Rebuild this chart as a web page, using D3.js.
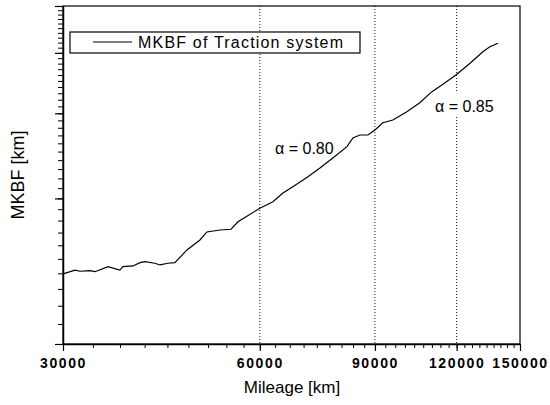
<!DOCTYPE html>
<html>
<head>
<meta charset="utf-8">
<script src="https://cdn.jsdelivr.net/npm/d3@7"></script>
<style>
    body { margin: 0; background: #fff; }
    svg { display: block; font-family: "Liberation Sans", Arial, sans-serif; }
</style>
</head>
<body>
<div id="chart"></div>
<script>
/*global d3*/
// mileage [km]
var mileage = [30000, 31300, 31850, 33000, 33580, 35160, 36650, 37060, 38390, 39340,
    40050, 41460, 42200, 43400, 44490, 46420, 48590, 49800, 52170, 54220,
    55560, 60000, 62840, 65090, 67400, 71080, 74150, 77600, 81550, 83280,
    85350, 87790, 90000, 92540, 95860, 100700, 105400, 110000, 113900, 119700,
    125800, 131600, 134900, 138800];
// cumulative MKBF [km]
var mkbf = [13960, 14220, 14140, 14180, 14110, 14450, 14220, 14450, 14500, 14730,
    14800, 14690, 14570, 14690, 14730, 15650, 16410, 17050, 17210, 17270,
    17900, 19080, 19690, 20520, 21150, 22180, 23120, 24250, 25590, 26670,
    27050, 27050, 27700, 28680, 29060, 30230, 31550, 33250, 34330, 36000,
    38060, 40220, 41190, 41860];
var xTickValues = [30000, 60000, 90000, 120000, 150000];
var refLines = [60000, 90000, 120000];
var alphaLabels = [
    {text: "\u03b1 = 0.80", x: 63300, y: 24710},
    {text: "\u03b1 = 0.85", x: 111200, y: 30180}
];
var yDomain = [10000, 50000];
var legendText = "MKBF of Traction system";

(function () {
    "use strict";
    var width = 550,
        height = 405,
        margin = {top: 6, right: 30, bottom: 61, left: 63},
        innerW = width - margin.left - margin.right,
        innerH = height - margin.top - margin.bottom,
        svg,
        g,
        xScale,
        yScale,
        xMinor = [],
        yMinor = [],
        line,
        legend,
        labels,
        i;

    svg = d3.select("#chart").append("svg")
        .attr("width", width)
        .attr("height", height);

    g = svg.append("g")
        .attr("transform", "translate(" + margin.left + "," + margin.top + ")");

    xScale = d3.scaleLog().domain([30000, 150000]).range([0, innerW]);
    yScale = d3.scaleLog().domain(yDomain).range([innerH, 0]);

    //minor ticks: 8 between each labelled step on x, every 1000 on y
    for (i = 0; i <= 36; i++) {
        xMinor.push(30000 + i * 30000 / 9);
    }
    for (i = 10; i <= 50; i++) {
        yMinor.push(i * 1000);
    }

    //dotted reference lines
    g.selectAll(".ref").data(refLines).enter().append("line")
        .attr("class", "ref")
        .attr("x1", function (d) { return xScale(d); })
        .attr("x2", function (d) { return xScale(d); })
        .attr("y1", 0)
        .attr("y2", innerH)
        .attr("stroke", "#111")
        .attr("stroke-width", 1)
        .attr("stroke-dasharray", "1,2");

    //frame
    g.append("rect")
        .attr("width", innerW)
        .attr("height", innerH)
        .attr("fill", "none")
        .attr("stroke", "#000")
        .attr("stroke-width", 1.2);

    //bottom axis - minor then major
    g.append("g")
        .attr("transform", "translate(0," + innerH + ")")
        .call(d3.axisBottom(xScale).tickValues(xMinor).tickSize(4).tickFormat(""))
        .call(function (a) { a.select(".domain").remove(); });

    g.append("g")
        .attr("class", "xaxis")
        .attr("transform", "translate(0," + innerH + ")")
        .call(d3.axisBottom(xScale).tickValues(xTickValues).tickSize(7).tickSizeOuter(0)
            .tickFormat(d3.format("d")))
        .call(function (a) {
            a.select(".domain").attr("stroke-width", 1.5);
            a.selectAll("line").attr("stroke-width", 1.2);
            a.selectAll("text")
                .attr("y", 14)
                .attr("font-size", 14)
                .attr("font-weight", "bold")
                .attr("letter-spacing", 1.6)
                .attr("font-family", "'Liberation Sans', Arial, sans-serif")
                .attr("fill", "#000");
        });

    //left axis, no labels in the source
    g.append("g")
        .call(d3.axisLeft(yScale).tickValues(yMinor).tickSize(5).tickFormat(""))
        .call(function (a) { a.select(".domain").remove(); });

    g.append("g")
        .call(d3.axisLeft(yScale).tickValues([10000, 20000, 30000, 40000, 50000])
            .tickSize(8).tickSizeOuter(0).tickFormat(""))
        .call(function (a) {
            a.select(".domain").attr("stroke-width", 1.5);
            a.selectAll("line").attr("stroke-width", 1.2);
        });

    //growth rate labels, white box hides the dotted line behind
    labels = g.selectAll(".alpha").data(alphaLabels).enter().append("g")
        .attr("class", "alpha")
        .attr("transform", function (d) {
            return "translate(" + xScale(d.x) + "," + yScale(d.y) + ")";
        });
    labels.append("rect")
        .attr("x", -2)
        .attr("y", -20)
        .attr("width", 66)
        .attr("height", 25)
        .attr("fill", "#fff");
    labels.append("text")
        .attr("font-size", 16)
        .attr("fill", "#000")
        .text(function (d) { return d.text; });

    //the MKBF curve, on top of the label boxes
    line = d3.line()
        .x(function (d, j) { return xScale(mileage[j]); })
        .y(function (d) { return yScale(d); });

    g.append("path")
        .datum(mkbf)
        .attr("fill", "none")
        .attr("stroke", "#000")
        .attr("stroke-width", 1.2)
        .attr("d", line);

    //legend box
    legend = g.append("g").attr("transform", "translate(7,26)");
    legend.append("rect")
        .attr("width", 290)
        .attr("height", 21)
        .attr("fill", "#fff")
        .attr("stroke", "#000")
        .attr("stroke-width", 1.2);
    legend.append("line")
        .attr("x1", 23).attr("x2", 62)
        .attr("y1", 10).attr("y2", 10)
        .attr("stroke", "#000")
        .attr("stroke-width", 1.2);
    legend.append("text")
        .attr("x", 68)
        .attr("y", 16)
        .attr("font-size", 16)
        .attr("textLength", 205)
        .attr("lengthAdjust", "spacing")
        .text(legendText);

    //axis titles
    svg.append("text")
        .attr("x", 292)
        .attr("y", 393)
        .attr("text-anchor", "middle")
        .attr("font-size", 17)
        .text("Mileage [km]");

    svg.append("text")
        .attr("transform", "translate(24,175) rotate(-90)")
        .attr("text-anchor", "middle")
        .attr("font-size", 18)
        .text("MKBF [km]");
}());
</script>
</body>
</html>
